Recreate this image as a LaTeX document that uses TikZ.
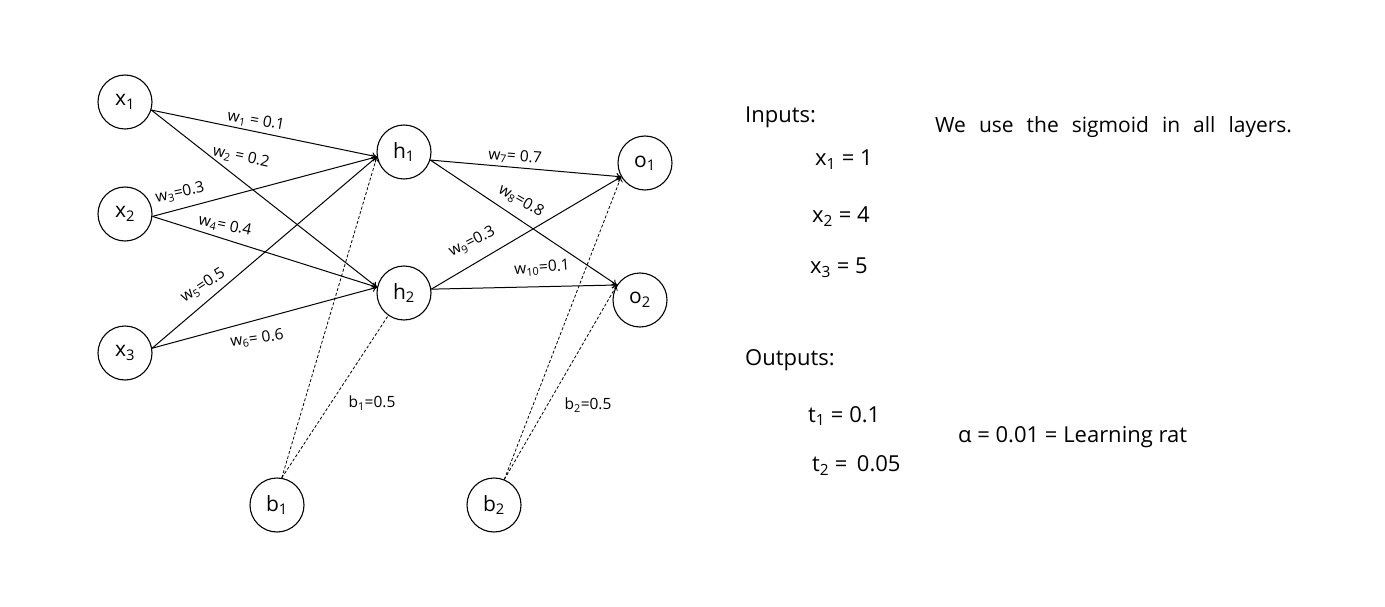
\documentclass[tikz,border=0pt]{standalone}
\usepackage{fontspec}
\setmainfont{Open Sans}
\usetikzlibrary{arrows.meta}
\begin{document}
\begin{tikzpicture}[x=1pt,y=-1pt,
  neuron/.style={circle,draw,line width=1.1pt,minimum size=54pt,inner sep=0pt,
    font=\fontsize{21}{21}\selectfont},
  conn/.style={line width=1pt,-{To[length=5pt,width=7pt]}},
  biasconn/.style={line width=0.8pt,dash pattern=on 3pt off 2pt,-{To[length=5pt,width=7pt]}},
  biasplain/.style={line width=0.8pt,dash pattern=on 3pt off 2pt},
  wlab/.style={font=\fontsize{15.5}{16}\selectfont,inner sep=0.5pt},
  note/.style={anchor=west,font=\fontsize{22}{24}\selectfont,inner sep=0pt}]
\useasboundingbox (0,0) rectangle (1385,607);

% neurons
\node[neuron] (x1) at (125,102) {x\textsubscript{1}};
\node[neuron] (x2) at (125,214) {x\textsubscript{2}};
\node[neuron] (x3) at (125,353) {x\textsubscript{3}};
\node[neuron] (h1) at (404,152) {h\textsubscript{1}};
\node[neuron] (h2) at (404,293) {h\textsubscript{2}};
\node[neuron] (o1) at (645,163) {o\textsubscript{1}};
\node[neuron] (o2) at (640,300) {o\textsubscript{2}};
\node[neuron] (b1) at (277,505) {b\textsubscript{1}};
\node[neuron] (b2) at (494,505) {b\textsubscript{2}};

% input -> hidden
\draw[conn] (x1.-17) -- (h1.190);
\draw[conn] (x1.-17) -- (h2.168);
\draw[conn] (x2.-5) -- (h1.190);
\draw[conn] (x2.-5) -- (h2.168);
\draw[conn] (x3.10) -- (h1.190);
\draw[conn] (x3.10) -- (h2.168);

% hidden -> output
\draw[conn] (h1.-17) -- (o1.210);
\draw[conn] (h1.-17) -- (o2.147);
\draw[conn] (h2.8) -- (o1.210);
\draw[conn] (h2.8) -- (o2.147);

% biases
\draw[biasconn] (b1.80) -- (h1.190);
\draw[biasplain] (b1.80) -- (h2.235);
\draw[biasconn] (b2.68) -- (o1.210);
\draw[biasconn] (b2.68) -- (o2.147);

% weight labels
\node[wlab,rotate=-10] (lw1) at (256,121) {w\textsubscript{1} = 0.1};
\node[wlab,rotate=-12] (lw2) at (241,157) {w\textsubscript{2} = 0.2};
\node[wlab,rotate=12] (lw3) at (180,193) {w\textsubscript{3}=0.3};
\node[wlab,rotate=-12] (lw4) at (225,226) {w\textsubscript{4}= 0.4};
\node[wlab,rotate=33] (lw5) at (203,286) {w\textsubscript{5}=0.5};
\node[wlab,rotate=8] (lw6) at (257,339) {w\textsubscript{6}= 0.6};
\node[wlab,rotate=-4] (lw7) at (515,157) {w\textsubscript{7}= 0.7};
\node[wlab,rotate=-30] (lw8) at (521,201) {w\textsubscript{8}=0.8};
\node[wlab,rotate=27] (lw9) at (472,242) {w\textsubscript{9}=0.3};
\node[wlab,rotate=4] (lw10) at (542,268) {w\textsubscript{10}=0.1};
\node[wlab] (lb1) at (372,403) {b\textsubscript{1}=0.5};
\node[wlab] (lb2) at (588,405) {b\textsubscript{2}=0.5};

% notes
\node[note] (inputs) at (745,117) {Inputs:};
\node[note,font=\fontsize{21}{23}\selectfont] (sig) at (935,127)
  {\spaceskip=13pt\relax We use the sigmoid in all layers.};
\node[note] (vx1) at (815,160) {x\textsubscript{1} = 1};
\node[note] (vx2) at (812,217) {x\textsubscript{2} = 4};
\node[note] (vx3) at (810,268) {x\textsubscript{3} = 5};
\node[note] (outputs) at (745,360) {Outputs:};
\node[note] (vt1) at (808,416) {t\textsubscript{1} = 0.1};
\node[note] (vt2) at (812,466) {t\textsubscript{2} = \,0.05};
\node[note] (lr) at (958,437) {α = 0.01 = Learning rat};
\end{tikzpicture}
\end{document}
